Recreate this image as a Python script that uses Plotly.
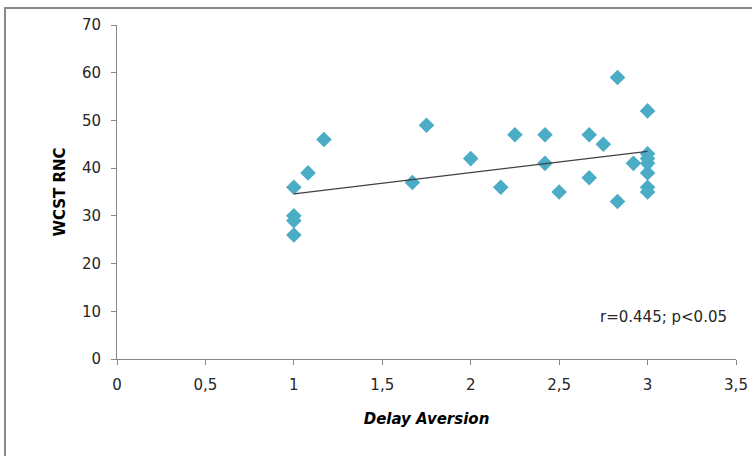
import plotly.graph_objects as go

# Delay aversion score vs. WCST random number count
delay_aversion = [1, 1, 1, 1, 1.08, 1.17, 1.67, 1.75, 2, 2.17, 2.25, 2.42, 2.42, 2.5,
                  2.67, 2.67, 2.75, 2.83, 2.83, 2.92, 3, 3, 3, 3, 3, 3, 3]
wcst_rnc = [36, 30, 29, 26, 39, 46, 37, 49, 42, 36, 47, 47, 41, 35,
            47, 38, 45, 59, 33, 41, 52, 43, 42, 41, 39, 36, 35]

# Linear trend line endpoints
trend_x = [1, 3]
trend_y = [34.6, 43.5]

x_ticks = [0, 0.5, 1, 1.5, 2, 2.5, 3, 3.5]
y_ticks = [0, 10, 20, 30, 40, 50, 60, 70]

font_family = "DejaVu Sans, sans-serif"
axis_gray = "#868686"
text_color = "#262626"

fig = go.Figure()
fig.add_trace(go.Scatter(
    x=delay_aversion, y=wcst_rnc, mode="markers",
    marker=dict(symbol="diamond", size=12, color="#4BACC6", line=dict(width=0)),
    showlegend=False, hoverinfo="x+y",
))
fig.add_trace(go.Scatter(
    x=trend_x, y=trend_y, mode="lines",
    line=dict(color="#404040", width=1.3),
    showlegend=False, hoverinfo="skip",
))

fig.update_layout(
    width=752, height=456,
    margin=dict(l=117, r=16, t=25, b=97, autoexpand=False),
    paper_bgcolor="white", plot_bgcolor="white",
    separators=",.",
    font=dict(family=font_family, size=15, color=text_color),
    xaxis=dict(
        range=[0, 3.5], tickvals=x_ticks, showgrid=False, zeroline=False,
        showline=True, linecolor=axis_gray, linewidth=1, automargin=False,
        ticks="outside", ticklen=5, tickcolor=axis_gray, ticklabelstandoff=7,
        tickfont=dict(size=15, family=font_family, color=text_color),
        title=dict(text="<b><i>Delay Aversion</i></b>", standoff=20,
                   font=dict(size=15, family=font_family, color="#000000")),
    ),
    yaxis=dict(
        range=[0, 70], tickvals=y_ticks, showgrid=False, zeroline=False,
        showline=True, linecolor=axis_gray, linewidth=1, automargin=False,
        ticks="outside", ticklen=5, tickcolor=axis_gray, ticklabelstandoff=7,
        tickfont=dict(size=15, family=font_family, color=text_color),
        title=dict(text="<b>WCST RNC</b>", standoff=12,
                   font=dict(size=15, family=font_family, color="#000000")),
    ),
    annotations=[dict(
        text="r=0.445; p<0.05", xref="paper", yref="paper",
        x=(663 - 117) / 619, y=(359 - 317) / 334,
        xanchor="center", yanchor="middle", showarrow=False,
        font=dict(size=15, family=font_family, color=text_color),
    )],
    shapes=[dict(
        type="rect", xref="paper", yref="paper",
        x0=(5 - 117) / 619, x1=1.2, y0=-0.6, y1=(359 - 8) / 334,
        line=dict(color="#8a8a8a", width=2), fillcolor="rgba(0,0,0,0)",
        layer="below",
    )],
)

fig.write_html("out.html")
